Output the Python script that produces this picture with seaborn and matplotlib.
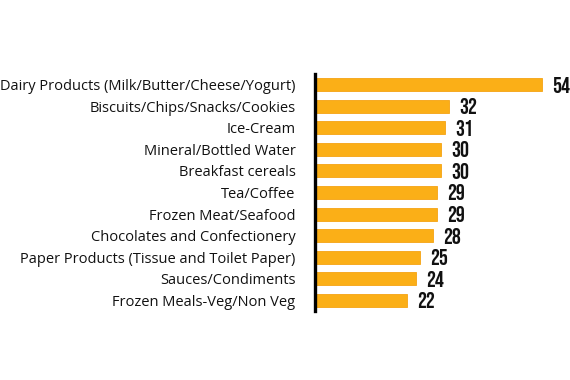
import matplotlib
matplotlib.use("Agg")
import matplotlib.pyplot as plt
import seaborn as sns
import pandas as pd

categories = [
    "Dairy Products (Milk/Butter/Cheese/Yogurt)",
    "Biscuits/Chips/Snacks/Cookies",
    "Ice-Cream",
    "Mineral/Bottled Water",
    "Breakfast cereals",
    "Tea/Coffee",
    "Frozen Meat/Seafood",
    "Chocolates and Confectionery",
    "Paper Products (Tissue and Toilet Paper)",
    "Sauces/Condiments",
    "Frozen Meals-Veg/Non Veg",
]
values = [54, 32, 31, 30, 30, 29, 29, 28, 25, 24, 22]

df = pd.DataFrame({"category": categories, "value": values})

sns.set_theme(style="white")
plt.rcParams["font.family"] = ["Open Sans", "DejaVu Sans"]

fig = plt.figure(figsize=(5.7, 3.8), dpi=100)
ax = fig.add_axes([315 / 570, 1 - 311 / 380, 252 / 570, 237 / 380])

sns.barplot(data=df, x="value", y="category", color="#FBAF17", width=0.6,
            saturation=1, ax=ax, edgecolor="#F6A313", linewidth=0.6)

ax.set_xlim(0, 60)
ax.set_xlabel("")
ax.set_ylabel("")
ax.set_xticks([])
for s in ["top", "right", "bottom"]:
    ax.spines[s].set_visible(False)
ax.spines["left"].set_linewidth(2.4)
ax.spines["left"].set_color("black")
ax.tick_params(axis="y", length=0, pad=14, labelsize=10.5, labelcolor="#111111")

for i, v in enumerate(values):
    ax.text(v + 2.4, i, str(v), va="center", ha="left", fontsize=16,
            color="#111111",
            family=["Bebas Neue", "Oswald", "Fjalla One", "Barlow Condensed", "DejaVu Sans"])

fig.savefig("out.png", dpi=100)
